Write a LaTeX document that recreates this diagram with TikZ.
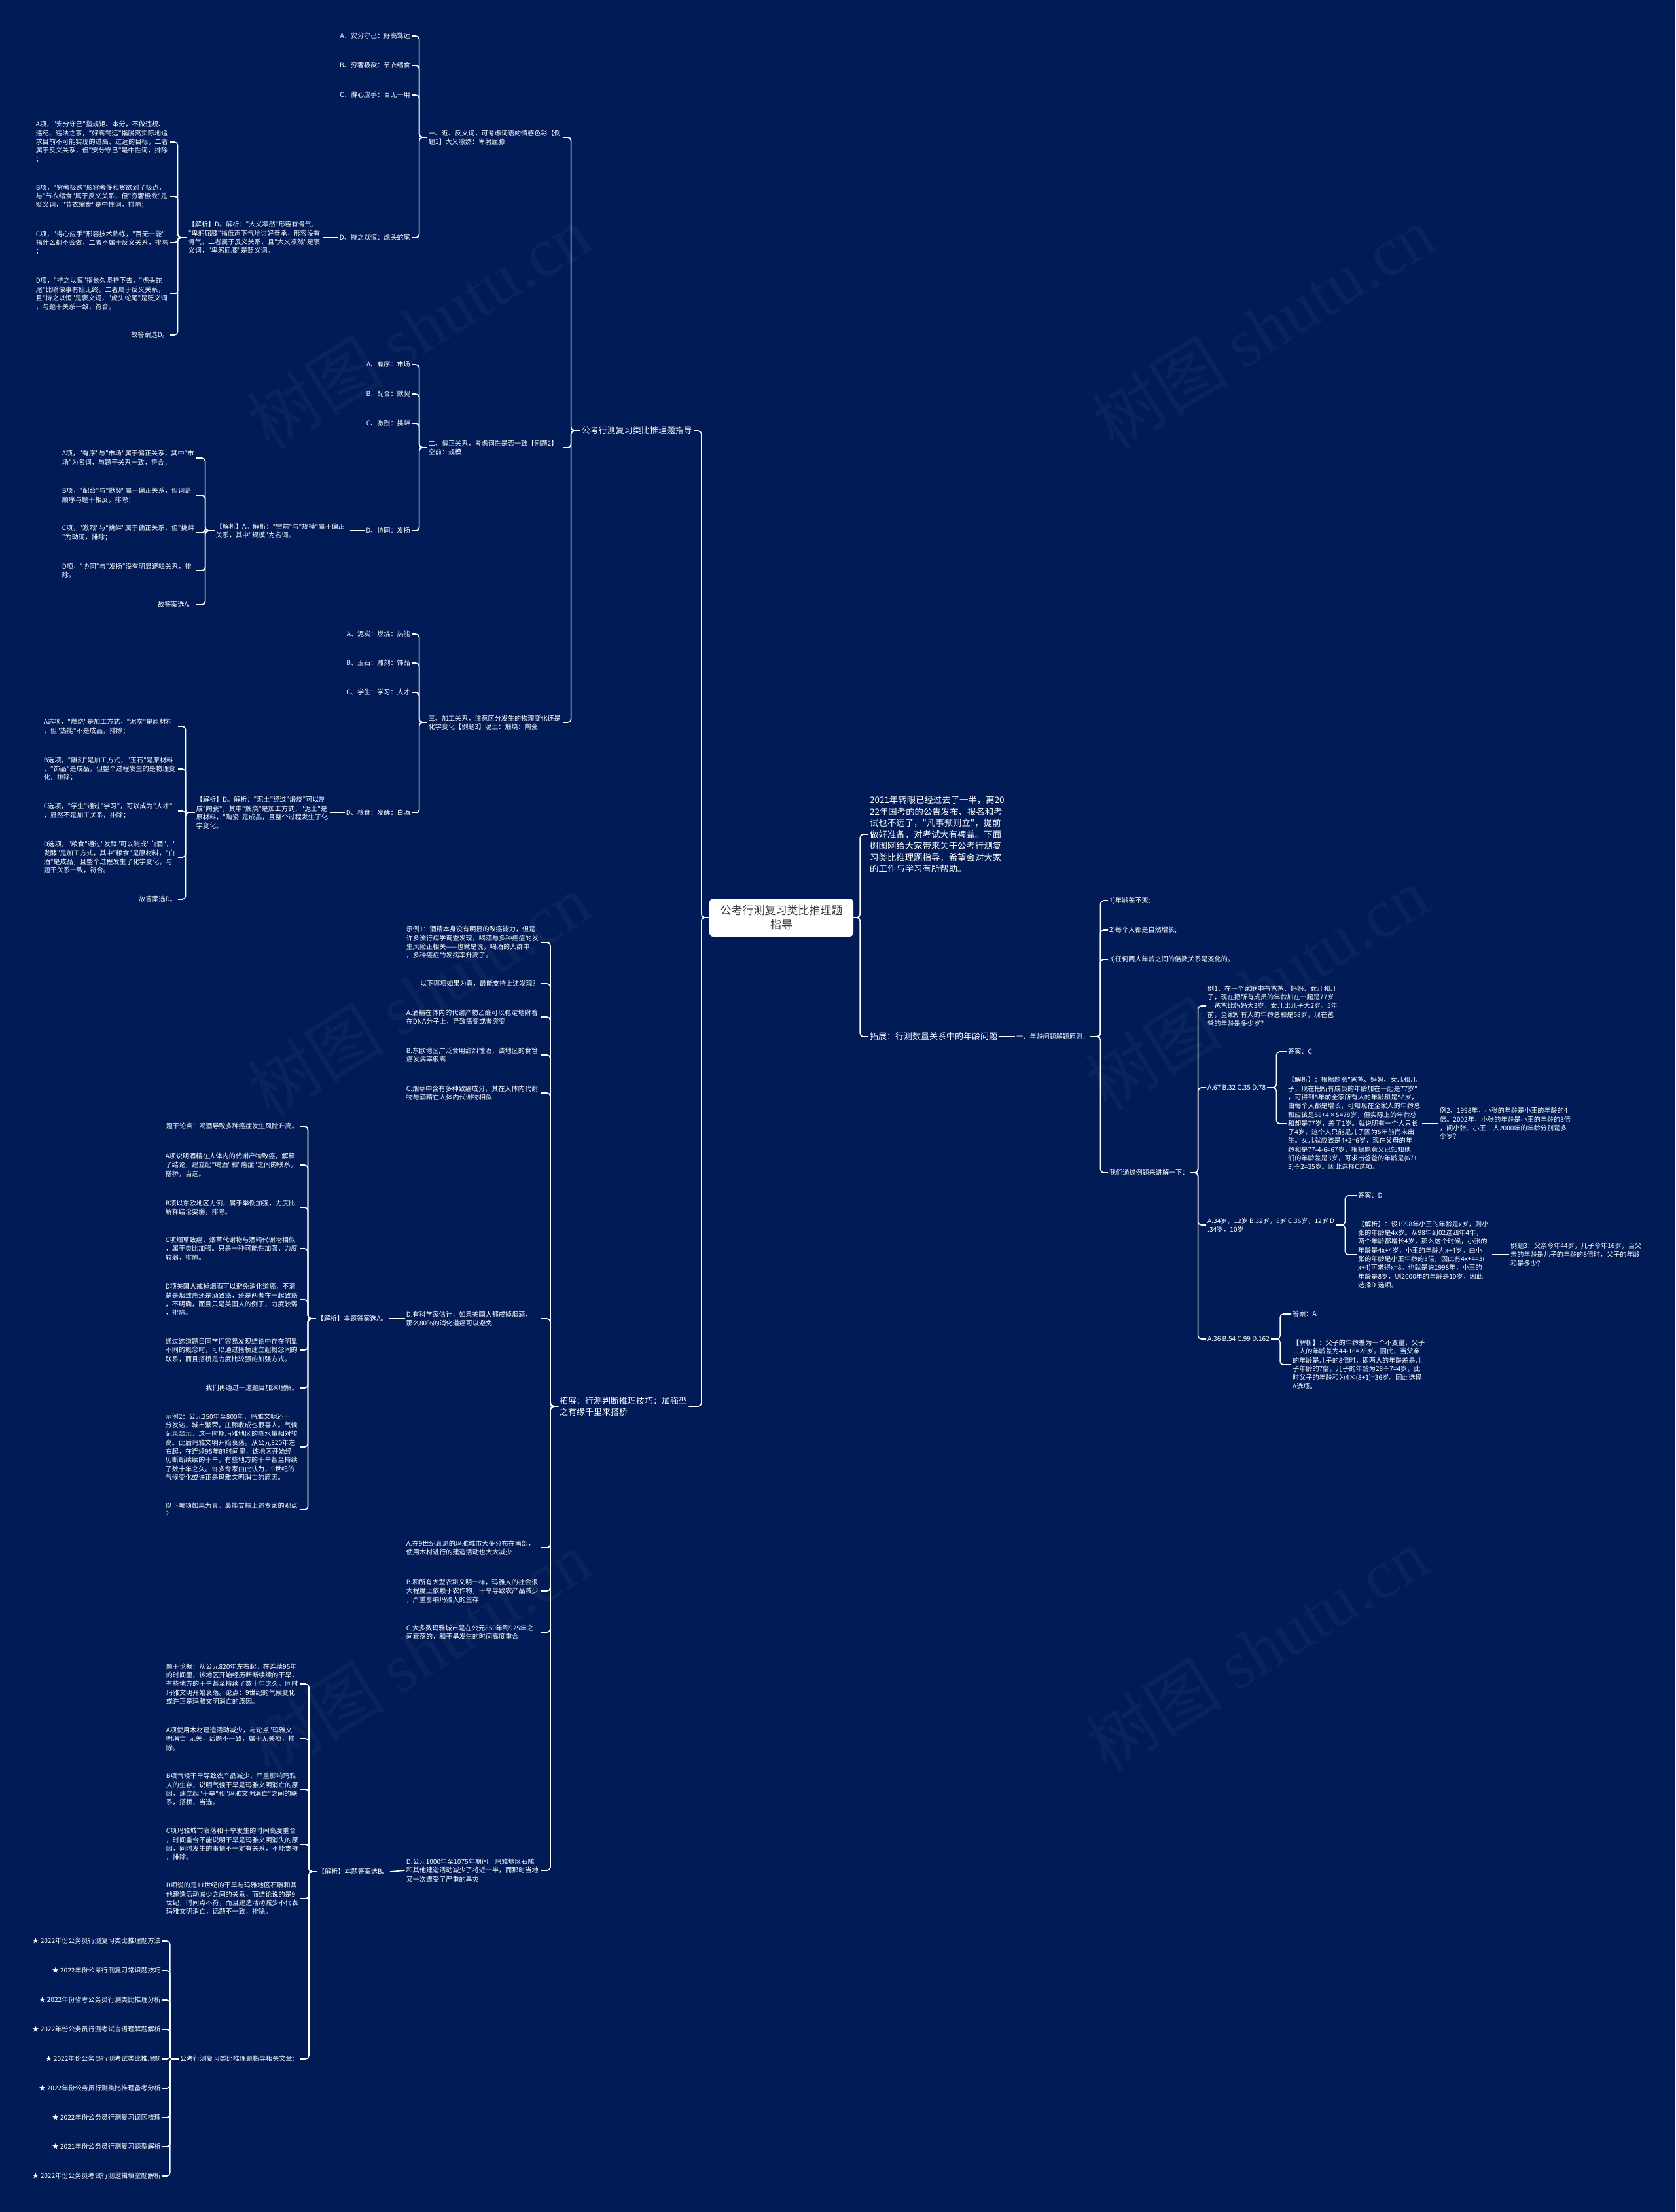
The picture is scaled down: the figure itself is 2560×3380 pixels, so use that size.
\documentclass[tikz,border=0pt]{standalone}
\usepackage{fontspec}
\setmainfont{Noto Sans CJK SC}[Ligatures=TeXOff]
\newfontfamily\wmserif{Liberation Serif}
\definecolor{mapbg}{RGB}{1,27,86}
\definecolor{rootink}{RGB}{51,51,51}
\newcommand\leafsize{\fontsize{10.1}{13.3}\selectfont}
\newcommand\branchsize{\fontsize{13}{17}\selectfont}
\newcommand\introsize{\fontsize{13.4}{17.5}\selectfont}
\newcommand\rootsize{\fontsize{17}{22}\selectfont}

\begin{document}
\begin{tikzpicture}[x=1pt, y=-1pt,
  leaf/.style={text=white, font=\leafsize, inner sep=2pt, align=left},
  para/.style={leaf, text width=203pt},
  branch/.style={text=white, font=\branchsize, inner sep=2pt, align=left},
  rootbox/.style={fill=white, text=rootink, rounded corners=6pt,
    minimum width=220pt, minimum height=58pt, font=\rootsize, align=center},
  link/.style={draw=white, line width=1.6pt, rounded corners=5pt},
  wmtext/.style={text=white, opacity=0.04, rotate=32, font=\fontsize{105}{110}\selectfont},
]
  \fill[mapbg] (0,0) rectangle (2560,3380);
  \useasboundingbox (0,0) rectangle (2560,3380);

  \node[wmtext] at (640,500) {树图 {\wmserif shutu.cn}};
  \node[wmtext] at (1930,500) {树图 {\wmserif shutu.cn}};
  \node[wmtext] at (640,1520) {树图 {\wmserif shutu.cn}};
  \node[wmtext] at (1920,1510) {树图 {\wmserif shutu.cn}};
  \node[wmtext] at (640,2525) {树图 {\wmserif shutu.cn}};
  \node[wmtext] at (1920,2520) {树图 {\wmserif shutu.cn}};

  \node[rootbox] (root) at (1194,1402) {公考行测复习类比推理题\\指导};
  \node[branch, anchor=east] (b1) at (1060,658) {公考行测复习类比推理题指导};
  \node[branch, anchor=west] (b2) at (853,2149) {拓展：行测判断推理技巧：加强型\\之有缘千里来搭桥};
  \node[branch, anchor=west, font=\introsize] (intro) at (1327,1275) {2021年转眼已经过去了一半，离20\\22年国考的的公告发布、报名和考\\试也不远了，"凡事预则立"，提前\\做好准备，对考试大有裨益。下面\\树图网给大家带来关于公考行测复\\习类比推理题指导，希望会对大家\\的工作与学习有所帮助。};
  \node[branch, anchor=west] (b3) at (1327,1584) {拓展：行测数量关系中的年龄问题};

  \node[para, anchor=east] (m1) at (860,210) {一、近、反义词，可考虑词语的情感色彩【例\\题1】大义凛然：卑躬屈膝};
  \node[para, anchor=east] (m2) at (860,684) {二、偏正关系，考虑词性是否一致【例题2】\\空前：规模};
  \node[para, anchor=east] (m3) at (860,1104) {三、加工关系，注意区分发生的物理变化还是\\化学变化【例题3】泥土：煅烧：陶瓷};

  \node[leaf, anchor=east] (y1a) at (629,55) {A、安分守己：好高骛远};
  \node[leaf, anchor=east] (y1b) at (629,100) {B、穷奢极欲：节衣缩食};
  \node[leaf, anchor=east] (y1c) at (629,145) {C、得心应手：百无一用};
  \node[leaf, anchor=east] (y1d) at (629,363) {D、持之以恒：虎头蛇尾};
  \node[para, anchor=east] (y1x) at (493,363) {【解析】D。解析："大义凛然"形容有骨气，\\"卑躬屈膝"指低声下气地讨好奉承，形容没有\\骨气，二者属于反义关系，且"大义凛然"是褒\\义词，"卑躬屈膝"是贬义词。};
  \node[para, anchor=east] (y1xa) at (260,217) {A项，"安分守己"指规矩、本分，不做违规、\\违纪、违法之事，"好高骛远"指脱离实际地追\\求目前不可能实现的过高、过远的目标，二者\\属于反义关系，但"安分守己"是中性词，排除\\；};
  \node[para, anchor=east] (y1xb) at (260,300) {B项，"穷奢极欲"形容奢侈和贪欲到了极点，\\与"节衣缩食"属于反义关系，但"穷奢极欲"是\\贬义词，"节衣缩食"是中性词，排除；};
  \node[para, anchor=east] (y1xc) at (260,371) {C项，"得心应手"形容技术熟练，"百无一能"\\指什么都不会做，二者不属于反义关系，排除\\；};
  \node[para, anchor=east] (y1xd) at (260,449) {D项，"持之以恒"指长久坚持下去，"虎头蛇\\尾"比喻做事有始无终，二者属于反义关系，\\且"持之以恒"是褒义词，"虎头蛇尾"是贬义词\\，与题干关系一致，符合。};
  \node[leaf, anchor=east] (y1xe) at (260,512) {故答案选D。};

  \node[leaf, anchor=east] (y2a) at (629,557) {A、有序：市场};
  \node[leaf, anchor=east] (y2b) at (629,602) {B、配合：默契};
  \node[leaf, anchor=east] (y2c) at (629,647) {C、激烈：挑衅};
  \node[leaf, anchor=east] (y2d) at (629,811) {D、协同：发扬};
  \node[para, anchor=east] (y2x) at (535,811) {【解析】A。解析："空前"与"规模"属于偏正\\关系，其中"规模"为名词。};
  \node[para, anchor=east] (y2xa) at (300,700) {A项，"有序"与"市场"属于偏正关系，其中"市\\场"为名词，与题干关系一致，符合；};
  \node[para, anchor=east] (y2xb) at (300,757) {B项，"配合"与"默契"属于偏正关系，但词语\\顺序与题干相反，排除；};
  \node[para, anchor=east] (y2xc) at (300,814) {C项，"激烈"与"挑衅"属于偏正关系，但"挑衅\\"为动词，排除；};
  \node[para, anchor=east] (y2xd) at (300,872) {D项，"协同"与"发扬"没有明显逻辑关系，排\\除。};
  \node[leaf, anchor=east] (y2xe) at (300,924) {故答案选A。};

  \node[leaf, anchor=east] (y3a) at (629,969) {A、泥炭：燃烧：热能};
  \node[leaf, anchor=east] (y3b) at (629,1013) {B、玉石：雕刻：饰品};
  \node[leaf, anchor=east] (y3c) at (629,1058) {C、学生：学习：人才};
  \node[leaf, anchor=east] (y3d) at (629,1242) {D、粮食：发酵：白酒};
  \node[para, anchor=east] (y3x) at (505,1242) {【解析】D。解析："泥土"经过"煅烧"可以制\\成"陶瓷"，其中"煅烧"是加工方式，"泥土"是\\原材料，"陶瓷"是成品，且整个过程发生了化\\学变化。};
  \node[para, anchor=east] (y3xa) at (272,1110) {A选项，"燃烧"是加工方式，"泥炭"是原材料\\，但"热能"不是成品，排除；};
  \node[para, anchor=east] (y3xb) at (272,1175) {B选项，"雕刻"是加工方式，"玉石"是原材料\\，"饰品"是成品，但整个过程发生的是物理变\\化，排除；};
  \node[para, anchor=east] (y3xc) at (272,1239) {C选项，"学生"通过"学习"，可以成为"人才"\\，显然不是加工关系，排除；};
  \node[para, anchor=east] (y3xd) at (272,1310) {D选项，"粮食"通过"发酵"可以制成"白酒"，"\\发酵"是加工方式，其中"粮食"是原材料，"白\\酒"是成品，且整个过程发生了化学变化，与\\题干关系一致，符合。};
  \node[leaf, anchor=east] (y3xe) at (272,1374) {故答案选D。};

  \node[para, anchor=east] (s1) at (826,1440) {示例1：酒精本身没有明显的致癌能力，但是\\许多流行病学调查发现，喝酒与多种癌症的发\\生风险正相关——也就是说，喝酒的人群中\\，多种癌症的发病率升高了。};
  \node[leaf, anchor=east] (s1q) at (826,1503) {以下哪项如果为真，最能支持上述发现？};
  \node[para, anchor=east] (s1a) at (826,1554) {A.酒精在体内的代谢产物乙醛可以稳定地附着\\在DNA分子上，导致癌变或者突变};
  \node[para, anchor=east] (s1b) at (826,1612) {B.东欧地区广泛食用甜烈性酒，该地区的食管\\癌发病率很高};
  \node[para, anchor=east] (s1c) at (826,1670) {C.烟草中含有多种致癌成分，其在人体内代谢\\物与酒精在人体内代谢物相似};
  \node[para, anchor=east] (s1d) at (826,2015) {D.有科学家估计，如果美国人都戒掉烟酒，\\那么80\%的消化道癌可以避免};
  \node[para, anchor=east] (s2a) at (826,2365) {A.在9世纪衰退的玛雅城市大多分布在南部，\\使用木材进行的建造活动也大大减少};
  \node[para, anchor=east] (s2b) at (826,2431) {B.和所有大型农耕文明一样，玛雅人的社会很\\大程度上依赖于农作物，干旱导致农产品减少\\，严重影响玛雅人的生存};
  \node[para, anchor=east] (s2c) at (826,2494) {C.大多数玛雅城市是在公元850年到925年之\\间衰落的，和干旱发生的时间高度重合};
  \node[para, anchor=east] (s2d) at (826,2858) {D.公元1000年至1075年期间，玛雅地区石雕\\和其他建造活动减少了将近一半，而那时当地\\又一次遭受了严重的旱灾};

  \node[leaf, anchor=east] (s1x) at (594,2015) {【解析】本题答案选A。};
  \node[leaf, anchor=east] (t1) at (458,1721) {题干论点：喝酒导致多种癌症发生风险升高。};
  \node[para, anchor=east] (t2) at (458,1780) {A项说明酒精在人体内的代谢产物致癌，解释\\了结论，建立起"喝酒"和"癌症"之间的联系，\\搭桥，当选。};
  \node[para, anchor=east] (t3) at (458,1845) {B项以东欧地区为例，属于举例加强，力度比\\解释结论要弱，排除。};
  \node[para, anchor=east] (t4) at (458,1908) {C项烟草致癌，烟草代谢物与酒精代谢物相似\\，属于类比加强。只是一种可能性加强，力度\\较弱，排除。};
  \node[para, anchor=east] (t5) at (458,1986) {D项美国人戒掉烟酒可以避免消化道癌，不清\\楚是烟致癌还是酒致癌，还是两者在一起致癌\\，不明确，而且只是美国人的例子，力度较弱\\，排除。};
  \node[para, anchor=east] (t6) at (458,2063) {通过这道题目同学们容易发现结论中存在明显\\不同的概念时，可以通过搭桥建立起概念间的\\联系，而且搭桥是力度比较强的加强方式。};
  \node[leaf, anchor=east] (t7) at (458,2121) {我们再通过一道题目加深理解。};
  \node[para, anchor=east] (t8) at (458,2211) {示例2：公元250年至800年，玛雅文明还十\\分发达，城市繁荣，庄稼收成也很喜人。气候\\记录显示，这一时期玛雅地区的降水量相对较\\高。此后玛雅文明开始衰落。从公元820年左\\右起，在连续95年的时间里，该地区开始经\\历断断续续的干旱，有些地方的干旱甚至持续\\了数十年之久。许多专家由此认为，9世纪的\\气候变化或许正是玛雅文明消亡的原因。};
  \node[para, anchor=east] (t9) at (458,2307) {以下哪项如果为真，最能支持上述专家的观点\\？};

  \node[leaf, anchor=east] (s2x) at (596,2860) {【解析】本题答案选B。};
  \node[para, anchor=east] (u1) at (459,2573) {题干论据：从公元820年左右起，在连续95年\\的时间里，该地区开始经历断断续续的干旱，\\有些地方的干旱甚至持续了数十年之久。同时\\玛雅文明开始衰落。论点：9世纪的气候变化\\或许正是玛雅文明消亡的原因。};
  \node[para, anchor=east] (u2) at (459,2657) {A项使用木材建造活动减少，与论点"玛雅文\\明消亡"无关，话题不一致，属于无关项，排\\除。};
  \node[para, anchor=east] (u3) at (459,2734) {B项气候干旱导致农产品减少，严重影响玛雅\\人的生存，说明气候干旱是玛雅文明消亡的原\\因，建立起"干旱"和"玛雅文明消亡"之间的联\\系，搭桥，当选。};
  \node[para, anchor=east] (u4) at (459,2818) {C项玛雅城市衰落和干旱发生的时间高度重合\\，时间重合不能说明干旱是玛雅文明消失的原\\因，同时发生的事情不一定有关系，不能支持\\，排除。};
  \node[para, anchor=east] (u5) at (459,2901) {D项说的是11世纪的干旱与玛雅地区石雕和其\\他建造活动减少之间的关系，而结论说的是9\\世纪，时间点不符，而且建造活动减少不代表\\玛雅文明消亡，话题不一致，排除。};
  \node[leaf, anchor=east] (rel) at (459,3146) {公考行测复习类比推理题指导相关文章：};

  \node[leaf, anchor=east] (k1) at (248,2966) {★ 2022年份公务员行测复习类比推理题方法};
  \node[leaf, anchor=east] (k2) at (248,3011) {★ 2022年份公考行测复习常识题技巧};
  \node[leaf, anchor=east] (k3) at (248,3056) {★ 2022年份省考公务员行测类比推理分析};
  \node[leaf, anchor=east] (k4) at (248,3101) {★ 2022年份公务员行测考试言语理解题解析};
  \node[leaf, anchor=east] (k5) at (248,3146) {★ 2022年份公务员行测考试类比推理题};
  \node[leaf, anchor=east] (k6) at (248,3191) {★ 2022年份公务员行测类比推理备考分析};
  \node[leaf, anchor=east] (k7) at (248,3236) {★ 2022年份公务员行测复习误区梳理};
  \node[leaf, anchor=east] (k8) at (248,3280) {★ 2021年份公务员行测复习题型解析};
  \node[leaf, anchor=east] (k9) at (248,3325) {★ 2022年份公务员考试行测逻辑填空题解析};

  \node[leaf, anchor=west] (r1) at (1551,1584) {一、年龄问题解题原则：};
  \node[leaf, anchor=west] (r1a) at (1693,1376) {1)年龄差不变;};
  \node[leaf, anchor=west] (r1b) at (1693,1421) {2)每个人都是自然增长;};
  \node[leaf, anchor=west] (r1c) at (1693,1466) {3)任何两人年龄之间的倍数关系是变化的。};
  \node[leaf, anchor=west] (r2) at (1693,1792) {我们通过例题来讲解一下：};
  \node[para, anchor=west] (e1) at (1843,1537) {例1、在一个家庭中有爸爸、妈妈、女儿和儿\\子，现在把所有成员的年龄加在一起是77岁\\，爸爸比妈妈大3岁，女儿比儿子大2岁。5年\\前，全家所有人的年龄总和是58岁，现在爸\\爸的年龄是多少岁？};
  \node[leaf, anchor=west] (o1) at (1843,1662) {A.67 B.32 C.35 D.78};
  \node[leaf, anchor=west] (o2) at (1843,1872) {A.34岁，12岁 B.32岁，8岁 C.36岁，12岁 D\\.34岁，10岁};
  \node[leaf, anchor=west] (o3) at (1843,2046) {A.36 B.54 C.99 D.162};
  \node[leaf, anchor=west] (a1) at (1966,1607) {答案：C};
  \node[para, anchor=west] (x1) at (1966,1717) {【解析】：根据题意"爸爸、妈妈、女儿和儿\\子，现在把所有成员的年龄加在一起是77岁"\\，可得到5年前全家所有人的年龄和是58岁，\\由每个人都是增长，可知现在全家人的年龄总\\和应该是58+4×5=78岁，但实际上的年龄总\\和却是77岁，差了1岁。就说明有一个人只长\\了4岁，这个人只能是儿子因为5年前尚未出\\生。女儿就应该是4+2=6岁，现在父母的年\\龄和是77-4-6=67岁，根据题意又已知知他\\们的年龄差是3岁，可求出爸爸的年龄是(67+\\3)÷2=35岁。因此选择C选项。};
  \node[para, anchor=west] (e2) at (2198,1717) {例2、1998年，小张的年龄是小王的年龄的4\\倍。2002年，小张的年龄是小王的年龄的3倍\\，问小张、小王二人2000年的年龄分别是多\\少岁？};
  \node[leaf, anchor=west] (a2) at (2073,1827) {答案：D};
  \node[para, anchor=west] (x2) at (2073,1917) {【解析】：设1998年小王的年龄是x岁，则小\\张的年龄是4x岁。从98年到02这四年4年，\\两个年龄都增长4岁，那么这个时候，小张的\\年龄是4x+4岁，小王的年龄为x+4岁。由小\\张的年龄是小王年龄的3倍，因此有4x+4=3(\\x+4)可求得x=8。也就是说1998年，小王的\\年龄是8岁，则2000年的年龄是10岁，因此\\选择D 选项。};
  \node[para, anchor=west] (e3) at (2306,1917) {例题3：父亲今年44岁，儿子今年16岁，当父\\亲的年龄是儿子的年龄的8倍时，父子的年龄\\和是多少？};
  \node[leaf, anchor=west] (a3) at (1973,2008) {答案：A};
  \node[para, anchor=west] (x3) at (1973,2085) {【解析】：父子的年龄差为一个不变量，父子\\二人的年龄差为44-16=28岁。因此，当父亲\\的年龄是儿子的8倍时，即两人的年龄差是儿\\子年龄的7倍，儿子的年龄为28÷7=4岁，此\\时父子的年龄和为4×(8+1)=36岁。因此选择\\A选项。};

  \draw[link] (root.west) -- ++(-12,0) |- (b1.east);
  \draw[link] (root.west) -- ++(-12,0) |- (b2.east);
  \draw[link] (root.east) -- ++(10,0) |- (intro.west);
  \draw[link] (root.east) -- ++(10,0) |- (b3.west);

  \draw[link] (b1.west) -- ++(-14,0) |- (m1.east);
  \draw[link] (b1.west) -- ++(-14,0) |- (m2.east);
  \draw[link] (b1.west) -- ++(-14,0) |- (m3.east);

  \draw[link] (m1.west) -- ++(-12,0) |- (y1a.east);
  \draw[link] (m1.west) -- ++(-12,0) |- (y1b.east);
  \draw[link] (m1.west) -- ++(-12,0) |- (y1c.east);
  \draw[link] (m1.west) -- ++(-12,0) |- (y1d.east);
  \draw[link] (y1d.west) -- (y1x.east);
  \draw[link] (y1x.west) -- ++(-14,0) |- (y1xa.east);
  \draw[link] (y1x.west) -- ++(-14,0) |- (y1xb.east);
  \draw[link] (y1x.west) -- ++(-14,0) |- (y1xc.east);
  \draw[link] (y1x.west) -- ++(-14,0) |- (y1xd.east);
  \draw[link] (y1x.west) -- ++(-14,0) |- (y1xe.east);

  \draw[link] (m2.west) -- ++(-12,0) |- (y2a.east);
  \draw[link] (m2.west) -- ++(-12,0) |- (y2b.east);
  \draw[link] (m2.west) -- ++(-12,0) |- (y2c.east);
  \draw[link] (m2.west) -- ++(-12,0) |- (y2d.east);
  \draw[link] (y2d.west) -- (y2x.east);
  \draw[link] (y2x.west) -- ++(-14,0) |- (y2xa.east);
  \draw[link] (y2x.west) -- ++(-14,0) |- (y2xb.east);
  \draw[link] (y2x.west) -- ++(-14,0) |- (y2xc.east);
  \draw[link] (y2x.west) -- ++(-14,0) |- (y2xd.east);
  \draw[link] (y2x.west) -- ++(-14,0) |- (y2xe.east);

  \draw[link] (m3.west) -- ++(-12,0) |- (y3a.east);
  \draw[link] (m3.west) -- ++(-12,0) |- (y3b.east);
  \draw[link] (m3.west) -- ++(-12,0) |- (y3c.east);
  \draw[link] (m3.west) -- ++(-12,0) |- (y3d.east);
  \draw[link] (y3d.west) -- (y3x.east);
  \draw[link] (y3x.west) -- ++(-14,0) |- (y3xa.east);
  \draw[link] (y3x.west) -- ++(-14,0) |- (y3xb.east);
  \draw[link] (y3x.west) -- ++(-14,0) |- (y3xc.east);
  \draw[link] (y3x.west) -- ++(-14,0) |- (y3xd.east);
  \draw[link] (y3x.west) -- ++(-14,0) |- (y3xe.east);

  \draw[link] (b2.west) -- ++(-12,0) |- (s1.east);
  \draw[link] (b2.west) -- ++(-12,0) |- (s1q.east);
  \draw[link] (b2.west) -- ++(-12,0) |- (s1a.east);
  \draw[link] (b2.west) -- ++(-12,0) |- (s1b.east);
  \draw[link] (b2.west) -- ++(-12,0) |- (s1c.east);
  \draw[link] (b2.west) -- ++(-12,0) |- (s1d.east);
  \draw[link] (b2.west) -- ++(-12,0) |- (s2a.east);
  \draw[link] (b2.west) -- ++(-12,0) |- (s2b.east);
  \draw[link] (b2.west) -- ++(-12,0) |- (s2c.east);
  \draw[link] (b2.west) -- ++(-12,0) |- (s2d.east);

  \draw[link] (s1d.west) -- (s1x.east);
  \draw[link] (s1x.west) -- ++(-12,0) |- (t1.east);
  \draw[link] (s1x.west) -- ++(-12,0) |- (t2.east);
  \draw[link] (s1x.west) -- ++(-12,0) |- (t3.east);
  \draw[link] (s1x.west) -- ++(-12,0) |- (t4.east);
  \draw[link] (s1x.west) -- ++(-12,0) |- (t5.east);
  \draw[link] (s1x.west) -- ++(-12,0) |- (t6.east);
  \draw[link] (s1x.west) -- ++(-12,0) |- (t7.east);
  \draw[link] (s1x.west) -- ++(-12,0) |- (t8.east);
  \draw[link] (s1x.west) -- ++(-12,0) |- (t9.east);

  \draw[link] (s2d.west) -- (s2x.east);
  \draw[link] (s2x.west) -- ++(-12,0) |- (u1.east);
  \draw[link] (s2x.west) -- ++(-12,0) |- (u2.east);
  \draw[link] (s2x.west) -- ++(-12,0) |- (u3.east);
  \draw[link] (s2x.west) -- ++(-12,0) |- (u4.east);
  \draw[link] (s2x.west) -- ++(-12,0) |- (u5.east);
  \draw[link] (s2x.west) -- ++(-12,0) |- (rel.east);

  \draw[link] (rel.west) -- ++(-13,0) |- (k1.east);
  \draw[link] (rel.west) -- ++(-13,0) |- (k2.east);
  \draw[link] (rel.west) -- ++(-13,0) |- (k3.east);
  \draw[link] (rel.west) -- ++(-13,0) |- (k4.east);
  \draw[link] (rel.west) -- ++(-13,0) |- (k5.east);
  \draw[link] (rel.west) -- ++(-13,0) |- (k6.east);
  \draw[link] (rel.west) -- ++(-13,0) |- (k7.east);
  \draw[link] (rel.west) -- ++(-13,0) |- (k8.east);
  \draw[link] (rel.west) -- ++(-13,0) |- (k9.east);

  \draw[link] (b3.east) -- (r1.west);
  \draw[link] (r1.east) -- ++(15,0) |- (r1a.west);
  \draw[link] (r1.east) -- ++(15,0) |- (r1b.west);
  \draw[link] (r1.east) -- ++(15,0) |- (r1c.west);
  \draw[link] (r1.east) -- ++(15,0) |- (r2.west);
  \draw[link] (r2.east) -- ++(12,0) |- (e1.west);
  \draw[link] (r2.east) -- ++(12,0) |- (o1.west);
  \draw[link] (r2.east) -- ++(12,0) |- (o2.west);
  \draw[link] (r2.east) -- ++(12,0) |- (o3.west);
  \draw[link] (o1.east) -- ++(14,0) |- (a1.west);
  \draw[link] (o1.east) -- ++(14,0) |- (x1.west);
  \draw[link] (x1.east) -- (e2.west);
  \draw[link] (o2.east) -- ++(14,0) |- (a2.west);
  \draw[link] (o2.east) -- ++(14,0) |- (x2.west);
  \draw[link] (x2.east) -- (e3.west);
  \draw[link] (o3.east) -- ++(14,0) |- (a3.west);
  \draw[link] (o3.east) -- ++(14,0) |- (x3.west);
\end{tikzpicture}
\end{document}
